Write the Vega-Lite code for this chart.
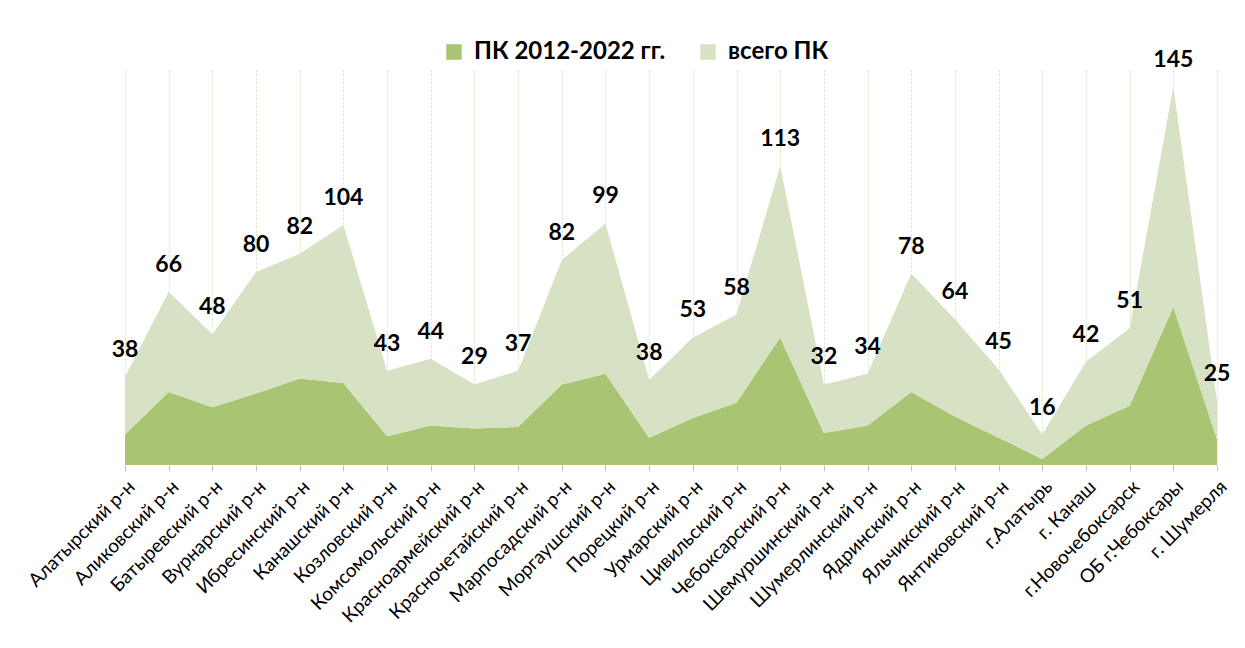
{
  "$schema": "https://vega.github.io/schema/vega-lite/v6.json",
  "width": 1092,
  "height": 395,
  "autosize": {"type": "none"},
  "padding": {"left": 125, "top": 70, "right": 28, "bottom": 183},
  "background": "white",
  "config": {"view": {"stroke": null}, "font": "Lato"},
  "data": {"values": [
    {"region": "Алатырский р-н", "series": "ПК 2012-2022 гг.", "value": 20},
    {"region": "Алатырский р-н", "series": "всего ПК", "value": 38},
    {"region": "Аликовский р-н", "series": "ПК 2012-2022 гг.", "value": 48},
    {"region": "Аликовский р-н", "series": "всего ПК", "value": 66},
    {"region": "Батыревский р-н", "series": "ПК 2012-2022 гг.", "value": 38},
    {"region": "Батыревский р-н", "series": "всего ПК", "value": 48},
    {"region": "Вурнарский р-н", "series": "ПК 2012-2022 гг.", "value": 47},
    {"region": "Вурнарский р-н", "series": "всего ПК", "value": 80},
    {"region": "Ибресинский р-н", "series": "ПК 2012-2022 гг.", "value": 57},
    {"region": "Ибресинский р-н", "series": "всего ПК", "value": 82},
    {"region": "Канашский р-н", "series": "ПК 2012-2022 гг.", "value": 54},
    {"region": "Канашский р-н", "series": "всего ПК", "value": 104},
    {"region": "Козловский р-н", "series": "ПК 2012-2022 гг.", "value": 19},
    {"region": "Козловский р-н", "series": "всего ПК", "value": 43},
    {"region": "Комсомольский р-н", "series": "ПК 2012-2022 гг.", "value": 26},
    {"region": "Комсомольский р-н", "series": "всего ПК", "value": 44},
    {"region": "Красноармейский р-н", "series": "ПК 2012-2022 гг.", "value": 24},
    {"region": "Красноармейский р-н", "series": "всего ПК", "value": 29},
    {"region": "Красночетайский р-н", "series": "ПК 2012-2022 гг.", "value": 25},
    {"region": "Красночетайский р-н", "series": "всего ПК", "value": 37},
    {"region": "Марпосадский р-н", "series": "ПК 2012-2022 гг.", "value": 53},
    {"region": "Марпосадский р-н", "series": "всего ПК", "value": 82},
    {"region": "Моргаушский р-н", "series": "ПК 2012-2022 гг.", "value": 60},
    {"region": "Моргаушский р-н", "series": "всего ПК", "value": 99},
    {"region": "Порецкий р-н", "series": "ПК 2012-2022 гг.", "value": 18},
    {"region": "Порецкий р-н", "series": "всего ПК", "value": 38},
    {"region": "Урмарский р-н", "series": "ПК 2012-2022 гг.", "value": 31},
    {"region": "Урмарский р-н", "series": "всего ПК", "value": 53},
    {"region": "Цивильский р-н", "series": "ПК 2012-2022 гг.", "value": 41},
    {"region": "Цивильский р-н", "series": "всего ПК", "value": 58},
    {"region": "Чебоксарский р-н", "series": "ПК 2012-2022 гг.", "value": 84},
    {"region": "Чебоксарский р-н", "series": "всего ПК", "value": 113},
    {"region": "Шемуршинский р-н", "series": "ПК 2012-2022 гг.", "value": 21},
    {"region": "Шемуршинский р-н", "series": "всего ПК", "value": 32},
    {"region": "Шумерлинский р-н", "series": "ПК 2012-2022 гг.", "value": 26},
    {"region": "Шумерлинский р-н", "series": "всего ПК", "value": 34},
    {"region": "Ядринский р-н", "series": "ПК 2012-2022 гг.", "value": 48},
    {"region": "Ядринский р-н", "series": "всего ПК", "value": 78},
    {"region": "Яльчикский р-н", "series": "ПК 2012-2022 гг.", "value": 32},
    {"region": "Яльчикский р-н", "series": "всего ПК", "value": 64},
    {"region": "Янтиковский р-н", "series": "ПК 2012-2022 гг.", "value": 18},
    {"region": "Янтиковский р-н", "series": "всего ПК", "value": 45},
    {"region": "г.Алатырь", "series": "ПК 2012-2022 гг.", "value": 4},
    {"region": "г.Алатырь", "series": "всего ПК", "value": 16},
    {"region": "г. Канаш", "series": "ПК 2012-2022 гг.", "value": 26},
    {"region": "г. Канаш", "series": "всего ПК", "value": 42},
    {"region": "г.Новочебоксарск", "series": "ПК 2012-2022 гг.", "value": 39},
    {"region": "г.Новочебоксарск", "series": "всего ПК", "value": 51},
    {"region": "ОБ г.Чебоксары", "series": "ПК 2012-2022 гг.", "value": 104},
    {"region": "ОБ г.Чебоксары", "series": "всего ПК", "value": 145},
    {"region": "г. Шумерля", "series": "ПК 2012-2022 гг.", "value": 17},
    {"region": "г. Шумерля", "series": "всего ПК", "value": 25}
  ]},
  "transform": [
    {"stack": "value", "groupby": ["region"], "sort": [{"field": "series", "order": "ascending"}], "as": ["y0", "y1"]}
  ],
  "encoding": {
    "x": {
      "field": "region",
      "type": "ordinal",
      "sort": ["Алатырский р-н", "Аликовский р-н", "Батыревский р-н", "Вурнарский р-н", "Ибресинский р-н", "Канашский р-н", "Козловский р-н", "Комсомольский р-н", "Красноармейский р-н", "Красночетайский р-н", "Марпосадский р-н", "Моргаушский р-н", "Порецкий р-н", "Урмарский р-н", "Цивильский р-н", "Чебоксарский р-н", "Шемуршинский р-н", "Шумерлинский р-н", "Ядринский р-н", "Яльчикский р-н", "Янтиковский р-н", "г.Алатырь", "г. Канаш", "г.Новочебоксарск", "ОБ г.Чебоксары", "г. Шумерля"],
      "scale": {"type": "point", "padding": 0},
      "axis": {
        "title": null,
        "labelAngle": -45,
        "labelFont": "Lato",
        "labelFontSize": 19,
        "labelColor": "#000000",
        "labelPadding": 6,
        "labelLimit": 400,
        "tickColor": "#bfbfbf",
        "tickSize": 6,
        "domain": false,
        "grid": true,
        "gridColor": "#d5e2b8",
        "gridDash": [2, 2],
        "gridWidth": 1
      }
    }
  },
  "layer": [
    {
      "mark": {"type": "area", "interpolate": "linear", "opacity": 1},
      "encoding": {
        "y": {"field": "y1", "type": "quantitative", "scale": {"domain": [0, 260]}, "axis": null},
        "y2": {"field": "y0"},
        "color": {
          "field": "series",
          "type": "nominal",
          "scale": {"domain": ["ПК 2012-2022 гг.", "всего ПК"], "range": ["#a9c472", "#d7e2c4"]},
          "legend": {
            "title": null,
            "orient": "none",
            "direction": "horizontal",
            "legendX": 317,
            "legendY": -30,
            "symbolType": "square",
            "symbolSize": 240,
            "symbolStrokeWidth": 0,
            "symbolOpacity": 1,
            "labelFont": "Lato",
            "labelFontSize": 24,
            "labelFontWeight": "bold",
            "labelColor": "#000000",
            "labelOffset": 8,
            "columnPadding": 30,
            "labelLimit": 400
          }
        }
      }
    },
    {
      "transform": [{"filter": "datum.series === 'всего ПК'"}],
      "mark": {"type": "text", "font": "Lato", "fontSize": 23, "fontWeight": "bold", "color": "#000000", "baseline": "middle", "align": "center", "dy": -27},
      "encoding": {
        "y": {"field": "y1", "type": "quantitative", "scale": {"domain": [0, 260]}, "axis": null},
        "text": {"field": "value", "type": "quantitative"}
      }
    }
  ]
}
